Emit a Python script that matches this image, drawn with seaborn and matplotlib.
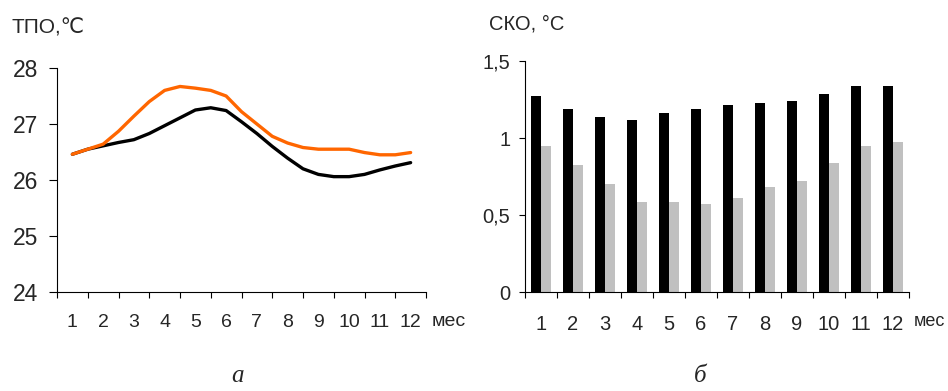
import matplotlib
matplotlib.use("Agg")
import matplotlib.pyplot as plt
import seaborn as sns
import pandas as pd
import numpy as np
from matplotlib.ticker import FixedLocator, NullFormatter

sns.set_theme(style="white")
plt.rcParams['font.family'] = ['Liberation Sans', 'DejaVu Sans']

# ---- data: left panel (ТПО) ----
line_x = [1, 1.5, 2, 2.5, 3, 3.5, 4, 4.5, 5, 5.5, 6, 6.5, 7, 7.5, 8, 8.5, 9, 9.5,
          10, 10.5, 11, 11.5, 12]
tpo_orange = [26.46, 26.55, 26.64, 26.87, 27.14, 27.40, 27.60, 27.67, 27.64, 27.60,
              27.50, 27.22, 27.00, 26.78, 26.66, 26.58, 26.55, 26.55, 26.55, 26.49,
              26.45, 26.45, 26.49]
tpo_black = [26.46, 26.55, 26.61, 26.67, 26.72, 26.83, 26.97, 27.11, 27.25, 27.29,
             27.24, 27.04, 26.83, 26.60, 26.39, 26.20, 26.10, 26.06, 26.06, 26.10,
             26.18, 26.25, 26.31]

# ---- data: right panel (СКО) ----
months = [1, 2, 3, 4, 5, 6, 7, 8, 9, 10, 11, 12]
sko_black = [1.27, 1.19, 1.14, 1.12, 1.16, 1.19, 1.215, 1.23, 1.24, 1.285, 1.34, 1.34]
sko_gray = [0.95, 0.825, 0.70, 0.587, 0.587, 0.574, 0.613, 0.685, 0.722, 0.84, 0.95, 0.976]

month_labels = [str(m) for m in months]

fig = plt.figure(figsize=(9.48, 3.91), dpi=100)
W, H = 948, 391

def fx(px):
    return px / W

def fy(py):
    return 1 - py / H

# ---------- left axes ----------
axL = fig.add_axes([fx(57), fy(292), (426 - 57) / W, (292 - 68) / H])
dfL = pd.DataFrame({
    'x': line_x * 2,
    'y': tpo_orange + tpo_black,
    's': ['orange'] * len(line_x) + ['black'] * len(line_x),
})
sns.lineplot(data=dfL, x='x', y='y', hue='s', palette={'orange': '#ff6600', 'black': 'black'},
             hue_order=['black', 'orange'], linewidth=2.4, legend=False, ax=axL)
axL.set_xlim(0.5, 12.5)
axL.set_ylim(24, 28)
axL.set_yticks([24, 25, 26, 27, 28])
axL.set_yticklabels(['24', '25', '26', '27', '28'])
axL.xaxis.set_major_locator(FixedLocator([m - 0.5 for m in months] + [12.5]))
axL.xaxis.set_major_formatter(NullFormatter())
axL.xaxis.set_minor_locator(FixedLocator(months))
axL.set_xticklabels(month_labels, minor=True)
axL.tick_params(axis='x', which='major', direction='out', length=4.5, width=0.8, color='black', bottom=True)
axL.tick_params(axis='x', which='minor', length=0, pad=16, labelsize=14, bottom=True)
axL.tick_params(axis='y', which='major', direction='out', length=5.5, width=0.8, color='black',
                left=True, labelsize=16.5, pad=8)
axL.set_xlabel('')
axL.set_ylabel('')

# ---------- right axes ----------
axR = fig.add_axes([fx(525), fy(292.3), (909 - 525) / W, (292.3 - 61) / H])
dfR = pd.DataFrame({
    'month': month_labels * 2,
    'v': sko_black + sko_gray,
    's': ['a'] * 12 + ['b'] * 12,
})
sns.barplot(data=dfR, x='month', y='v', hue='s', palette={'a': 'black', 'b': '#c0c0c0'},
            order=month_labels, hue_order=['a', 'b'], width=0.64, linewidth=0,
            legend=False, ax=axR, errorbar=None, saturation=1)
axR.set_xlim(-0.5, 11.5)
axR.set_ylim(0, 1.5)
axR.set_yticks([0, 0.5, 1, 1.5])
axR.set_yticklabels(['0', '0,5', '1', '1,5'])
axR.xaxis.set_major_locator(FixedLocator([i - 0.5 for i in range(13)]))
axR.xaxis.set_major_formatter(NullFormatter())
axR.xaxis.set_minor_locator(FixedLocator(list(range(12))))
axR.set_xticklabels(month_labels, minor=True)
axR.tick_params(axis='x', which='major', direction='out', length=4.5, width=0.8, color='black', bottom=True)
axR.tick_params(axis='x', which='minor', length=0, pad=16, labelsize=14.5, bottom=True)
axR.tick_params(axis='y', which='major', direction='out', length=4.5, width=0.8, color='black',
                left=True, labelsize=14.5, pad=6)
axR.set_xlabel('')
axR.set_ylabel('')

for ax in (axL, axR):
    for side in ('top', 'right'):
        ax.spines[side].set_visible(False)
    for side in ('left', 'bottom'):
        ax.spines[side].set_color('black')
        ax.spines[side].set_linewidth(0.8)
    ax.grid(False)

# ---------- texts ----------
fig.text(fx(12), fy(28), 'ТПО,℃', fontsize=15, va='center', ha='left',
         family=['Liberation Sans', 'DejaVu Sans'])
fig.text(fx(489), fy(24), 'СКО, °С', fontsize=14.5, va='center', ha='left')
fig.text(fx(432), fy(321), 'мес', fontsize=14, va='center', ha='left')
fig.text(fx(945), fy(321), 'мес', fontsize=13, va='center', ha='right')
fig.text(fx(237), fy(376), 'а', fontsize=18, va='center', ha='center',
         family='Liberation Serif', style='italic')
fig.text(fx(700), fy(376), 'б', fontsize=18, va='center', ha='center',
         family='Liberation Serif', style='italic')

fig.savefig('out.png', dpi=100)
